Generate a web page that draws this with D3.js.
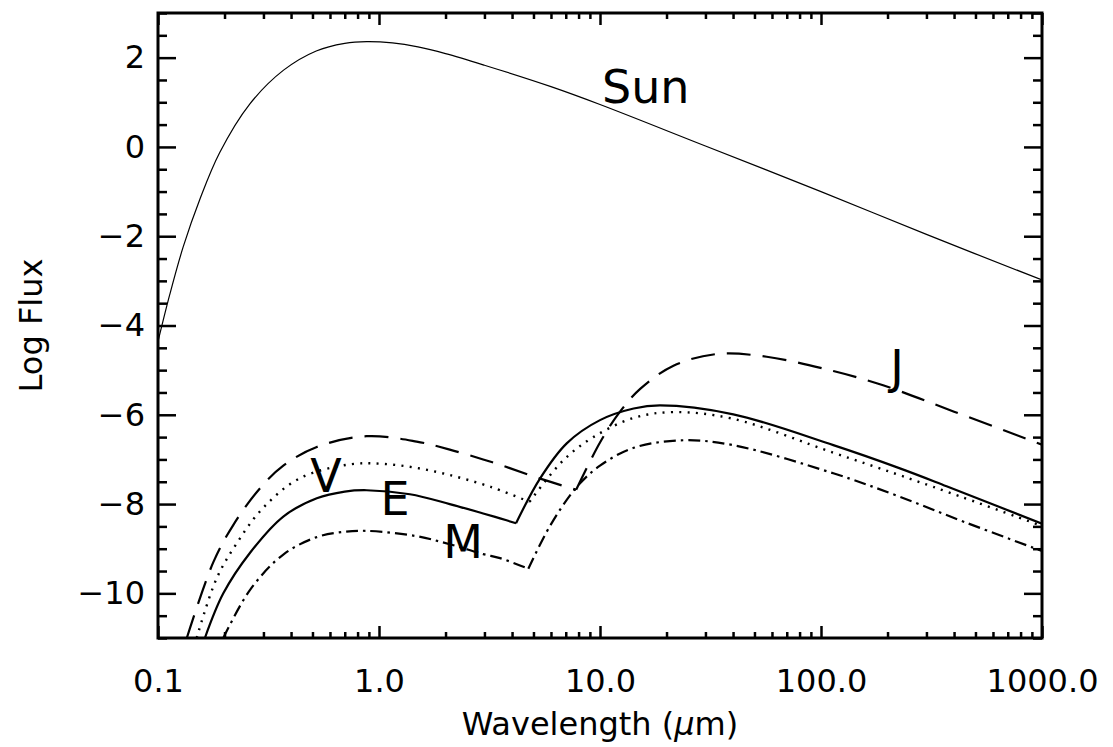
<!DOCTYPE html>
<html>
<head>
<meta charset="utf-8">
<script src="https://cdn.jsdelivr.net/npm/d3@7"></script>
<style>
body { margin: 0; background: #fff; }
text { font-family: "DejaVu Sans", sans-serif; fill: #000; }
</style>
</head>
<body>
<div id="chart"></div>
<script>
// wavelength (micron) and log flux
const sunWl = [0.1, 0.113, 0.13, 0.155, 0.19, 0.26, 0.37, 0.52, 0.7, 0.88, 1.15, 1.5, 2.0, 3.0, 6.0, 10, 30, 100, 300, 1000];
const sunFlux = [-4.36, -3.31, -2.24, -1.16, -0.13, 0.96, 1.72, 2.15, 2.32, 2.36, 2.33, 2.24, 2.09, 1.83, 1.35, 0.95, 0.02, -1.0, -1.96, -2.98];

// each planet: reflected light part, then thermal part (they meet at the kink)
const venusReflWl = [0.1496, 0.184, 0.227, 0.2997, 0.439, 0.739, 1.04, 1.48, 2.09, 2.96, 3.53, 4.8];
const venusReflFlux = [-11, -9.67, -8.88, -8.08, -7.42, -7.11, -7.10, -7.19, -7.35, -7.56, -7.69, -7.95];
const venusThermWl = [4.8, 6.82, 9.33, 14.2, 21.5, 40, 113.7, 220, 370, 1000];
const venusThermFlux = [-7.95, -7.02, -6.50, -6.07, -5.94, -6.09, -6.85, -7.33, -7.72, -8.49];

const earthReflWl = [0.163, 0.1975, 0.261, 0.369, 0.523, 0.7, 0.879, 1.38, 2.09, 2.96, 3.53, 4.17];
const earthReflFlux = [-11, -10.0, -9.09, -8.28, -7.87, -7.72, -7.69, -7.78, -8.0, -8.21, -8.32, -8.43];
const earthThermWl = [4.17, 5.35, 7.07, 10, 14.2, 18.7, 40.1, 113.7, 227.6, 370, 1000];
const earthThermFlux = [-8.43, -7.43, -6.64, -6.12, -5.86, -5.79, -5.99, -6.68, -7.2, -7.6, -8.44];

const marsReflWl = [0.1975, 0.261, 0.369, 0.523, 0.7, 0.879, 1.48, 2.09, 2.96, 3.53, 4.74];
const marsReflFlux = [-11, -9.92, -9.13, -8.74, -8.62, -8.60, -8.72, -8.9, -9.12, -9.21, -9.45];
const marsThermWl = [4.74, 5.94, 7.84, 10, 14.2, 23.8, 40, 113.7, 220, 450, 1000];
const marsThermFlux = [-9.45, -8.49, -7.62, -7.14, -6.74, -6.57, -6.68, -7.31, -7.81, -8.41, -9.05];

const jupReflWl = [0.135, 0.178, 0.219, 0.289, 0.369, 0.523, 0.879, 1.48, 2.09, 2.96, 3.53, 4.99, 7.8];
const jupReflFlux = [-11, -9.3, -8.47, -7.65, -7.14, -6.72, -6.48, -6.60, -6.78, -7.0, -7.12, -7.38, -7.68];
const jupThermWl = [7.8, 10, 12.32, 15.2, 21.5, 33.7, 56.8, 113.7, 191, 400, 1000];
const jupThermFlux = [-7.68, -6.62, -5.93, -5.42, -4.90, -4.64, -4.70, -5.02, -5.34, -5.93, -6.67];

const xTickValues = [0.1, 1, 10, 100, 1000];
const xTickLabels = ['0.1', '1.0', '10.0', '100.0', '1000.0'];
const yTickValues = [-10, -8, -6, -4, -2, 0, 2];

const w = 1113;
const h = 747;
const padding = {
  top: 13,
  bottom: 109,
  right: 71,
  left: 158 };

const xScale = d3.scaleLog().
domain([0.1, 1000]).
range([padding.left, w - padding.right]);

const yScale = d3.scaleLinear().
domain([-11, 3]).
range([h - padding.bottom, padding.top]);

const svg = d3.select('#chart').
append('svg').
attr('width', w).
attr('height', h);

svg.append('defs').
append('clipPath').
attr('id', 'plot-clip').
append('rect').
attr('x', padding.left).
attr('y', padding.top).
attr('width', w - padding.left - padding.right).
attr('height', h - padding.top - padding.bottom);

const minorX = xScale.ticks().filter(d => xTickValues.indexOf(d) < 0);
const minorY = yScale.ticks(28).filter(d => yTickValues.indexOf(d) < 0);

function styleAxis(g) {
  g.select('.domain').remove();
  g.selectAll('.tick line').attr('stroke', '#000').attr('stroke-width', 2.5);
  g.selectAll('.tick text').style('font-size', '32px').attr('fill', '#000');
}

// bottom axis with labels
svg.append('g').
attr('transform', 'translate(0,' + (h - padding.bottom) + ')').
call(d3.axisBottom(xScale).tickValues(xTickValues).tickSize(-12).tickPadding(31).
tickFormat((d, i) => xTickLabels[i])).
call(styleAxis);

svg.append('g').
attr('transform', 'translate(0,' + (h - padding.bottom) + ')').
call(d3.axisBottom(xScale).tickValues(minorX).tickSize(-6).tickFormat('')).
call(styleAxis);

// top axis, ticks only
svg.append('g').
attr('transform', 'translate(0,' + padding.top + ')').
call(d3.axisTop(xScale).tickValues(xTickValues).tickSize(-12).tickFormat('')).
call(styleAxis);

svg.append('g').
attr('transform', 'translate(0,' + padding.top + ')').
call(d3.axisTop(xScale).tickValues(minorX).tickSize(-6).tickFormat('')).
call(styleAxis);

// left axis with labels
svg.append('g').
attr('transform', 'translate(' + padding.left + ',0)').
call(d3.axisLeft(yScale).tickValues(yTickValues).tickSize(-18).tickPadding(13).
tickFormat(d => d < 0 ? '\u2212' + Math.abs(d) : String(d))).
call(styleAxis);

svg.append('g').
attr('transform', 'translate(' + padding.left + ',0)').
call(d3.axisLeft(yScale).tickValues(minorY).tickSize(-9).tickFormat('')).
call(styleAxis);

// right axis, ticks only
svg.append('g').
attr('transform', 'translate(' + (w - padding.right) + ',0)').
call(d3.axisRight(yScale).tickValues(yTickValues).tickSize(-18).tickFormat('')).
call(styleAxis);

svg.append('g').
attr('transform', 'translate(' + (w - padding.right) + ',0)').
call(d3.axisRight(yScale).tickValues(minorY).tickSize(-9).tickFormat('')).
call(styleAxis);

// frame
svg.append('rect').
attr('x', padding.left).
attr('y', padding.top).
attr('width', w - padding.left - padding.right).
attr('height', h - padding.top - padding.bottom).
attr('fill', 'none').
attr('stroke', '#000').
attr('stroke-width', 3);

const line = d3.line().
x(d => xScale(d[0])).
y(d => yScale(d[1])).
curve(d3.curveCatmullRom.alpha(0.5));

const curves = [
{ wl: sunWl, flux: sunFlux, width: 1.2, dash: null },
{ wl: jupReflWl, flux: jupReflFlux, width: 2.2, dash: '24,12' },
{ wl: jupThermWl, flux: jupThermFlux, width: 2.2, dash: '24,12' },
{ wl: venusReflWl, flux: venusReflFlux, width: 2.4, dash: '2,6.3' },
{ wl: venusThermWl, flux: venusThermFlux, width: 2.4, dash: '2,6.3' },
{ wl: earthReflWl, flux: earthReflFlux, width: 2.2, dash: null },
{ wl: earthThermWl, flux: earthThermFlux, width: 2.2, dash: null },
{ wl: marsReflWl, flux: marsReflFlux, width: 2.2, dash: '12,5,2.5,5' },
{ wl: marsThermWl, flux: marsThermFlux, width: 2.2, dash: '12,5,2.5,5' }];


const plot = svg.append('g').attr('clip-path', 'url(#plot-clip)');

plot.selectAll('path.curve').
data(curves).
enter().
append('path').
attr('class', 'curve').
attr('d', d => line(d3.zip(d.wl, d.flux))).
attr('fill', 'none').
attr('stroke', '#000').
attr('stroke-width', d => d.width).
attr('stroke-dasharray', d => d.dash);

// curve labels
const labels = [
{ t: 'Sun', x: 602, y: 103, anchor: 'start' },
{ t: 'J', x: 897, y: 383, anchor: 'middle' },
{ t: 'V', x: 326, y: 492, anchor: 'middle' },
{ t: 'E', x: 395, y: 515, anchor: 'middle' },
{ t: 'M', x: 463, y: 558, anchor: 'middle' }];

svg.selectAll('text.lab').
data(labels).
enter().
append('text').
attr('class', 'lab').
attr('x', d => d.x).
attr('y', d => d.y).
attr('text-anchor', d => d.anchor).
style('font-size', '46px').
text(d => d.t);

// axis titles
const xTitle = svg.append('text').
attr('x', (padding.left + w - padding.right) / 2).
attr('y', 735).
attr('text-anchor', 'middle').
style('font-size', '32px');
xTitle.append('tspan').text('Wavelength (');
xTitle.append('tspan').style('font-style', 'italic').text('\u03bc');
xTitle.append('tspan').text('m)');

svg.append('text').
attr('transform', 'rotate(-90)').
attr('x', -(padding.top + h - padding.bottom) / 2).
attr('y', 42).
attr('text-anchor', 'middle').
style('font-size', '32px').
text('Log Flux');
</script>
</body>
</html>
